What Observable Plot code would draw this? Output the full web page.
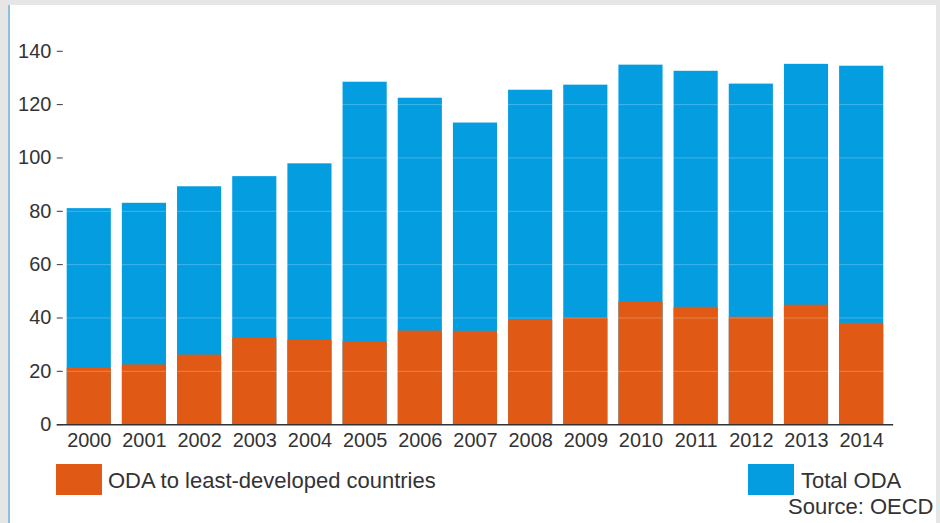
<!DOCTYPE html>
<html>
<head>
<meta charset="utf-8">
<script src="https://cdn.jsdelivr.net/npm/d3@7"></script>
<script src="https://cdn.jsdelivr.net/npm/@observablehq/plot@0.6"></script>
<style>
  html, body { margin: 0; padding: 0; background: #e6e6e6; }
  #frame { position: absolute; left: 8px; top: 5px; width: 926px; height: 518px; background: #fff; border-left: 2px solid #8cc0e2; }
  #chart { position: absolute; left: -10px; top: -5px; }
  .leg { position: absolute; font-family: "Liberation Sans", Arial, sans-serif; font-size: 22px; line-height: 22px; color: #333; white-space: nowrap; }
  .sw { position: absolute; width: 46px; height: 31px; }
</style>
</head>
<body>
<div id="frame">
  <div id="chart"></div>
</div>
<script>
const years = ["2000","2001","2002","2003","2004","2005","2006","2007","2008","2009","2010","2011","2012","2013","2014"];
const totalODA = [81, 83, 89.2, 93, 97.8, 128.4, 122.4, 113.1, 125.4, 127.3, 134.8, 132.5, 127.7, 135.1, 134.4];
const ldcODA = [21.3, 22.4, 26.1, 32.5, 31.7, 31, 35.1, 35, 39.2, 40, 45.9, 44, 40.3, 44.8, 38];
const yTicks = [0, 20, 40, 60, 80, 100, 120, 140];
const seriesNames = ["ODA to least-developed countries", "Total ODA"];
const seriesColors = ["#e05a15", "#049de0"];
const sourceText = "Source: OECD";

const data = years.map((y, i) => ({year: y, total: totalODA[i], ldc: ldcODA[i]}));

const plot = Plot.plot({
  width: 940,
  height: 456,
  marginLeft: 57,
  marginRight: 43,
  marginTop: 51,
  marginBottom: 30,
  style: {fontFamily: "'Liberation Sans', Arial, sans-serif", fontSize: "20px", color: "#333", background: "transparent"},
  x: {domain: years, paddingInner: 0.2, paddingOuter: 0.18, round: false, label: null},
  y: {domain: [0, 140], label: null},
  marks: [
    Plot.barY(data, {x: "year", y: "total", fill: seriesColors[1]}),
    Plot.barY(data, {x: "year", y: "ldc", fill: seriesColors[0]}),
    Plot.gridY(yTicks.filter(d => d > 0), {stroke: "#ffffff", strokeOpacity: 0.25, strokeWidth: 1}),
    Plot.ruleY([0], {stroke: "#333", strokeWidth: 1.5}),
    Plot.axisY({ticks: yTicks, tickSize: 6, dx: 6, tickPadding: 6, stroke: "#333", fill: "#333", fontSize: 20}),
    Plot.axisX({tickSize: 0, tickPadding: 8, fill: "#333", fontSize: 20})
  ]
});
document.getElementById("chart").appendChild(plot);

const frame = document.getElementById("frame");
function add(html) { const d = document.createElement("div"); d.innerHTML = html; frame.appendChild(d.firstElementChild); }
// positions relative to frame (frame origin at page x=10, y=5)
add(`<div class="sw" style="left:46px; top:459px; background:${seriesColors[0]}"></div>`);
add(`<div class="leg" style="left:98px; top:465px;">${seriesNames[0]}</div>`);
add(`<div class="sw" style="left:738px; top:459px; background:${seriesColors[1]}"></div>`);
add(`<div class="leg" style="left:791px; top:465px;">${seriesNames[1]}</div>`);
add(`<div class="leg" style="left:778px; top:491px;">${sourceText}</div>`);
</script>
</body>
</html>
